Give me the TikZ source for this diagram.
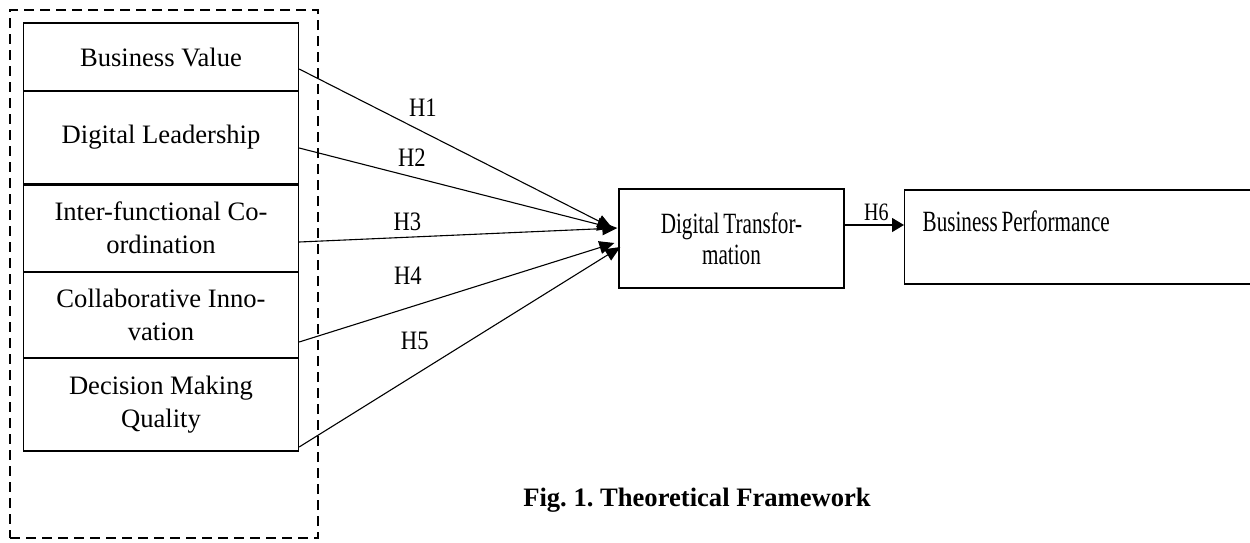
\documentclass[tikz,border=0pt]{standalone}
\usepackage{fontspec}
\setmainfont{Liberation Serif}
\newfontfamily\condA{Liberation Serif}[FakeStretch=0.8]
\newfontfamily\condB{Liberation Serif}[FakeStretch=0.85]
\newfontfamily\condC{Liberation Serif}[FakeStretch=0.72,WordSpace=0.72]
\usetikzlibrary{arrows.meta}
\begin{document}
\frenchspacing
\begin{tikzpicture}[x=0.5pt,y=-0.5pt,
  every node/.style={font=\fontsize{13.3}{16.5}\selectfont},
  box/.style={draw, line width=0.65pt, align=center, inner sep=0pt},
  rbox/.style={box, font=\fontsize{14.7}{15.5}\selectfont\condC},
  lbox/.style={box, minimum width=137.5pt},
  arr/.style={line width=0.55pt, -{Triangle[length=7.5pt,width=6.5pt]}},
  lab/.style={inner sep=0pt, font=\fontsize{13.3}{16.5}\selectfont\condB},
  grp/.style={draw, line width=0.7pt, dash pattern=on 5pt off 3pt}]
\useasboundingbox (0,0) rectangle (1250,542);
\fill[white] (0,0) rectangle (1250,542);
% group frame
\node[grp, minimum width=154pt, minimum height=264pt, inner sep=0pt] (grp) at (164,274) {};
% left boxes
\node[lbox, minimum height=34pt] (bv) at (161,57) {Business Value};
\node[lbox, minimum height=46.5pt] (dl) at (161,137.5) {Digital Leadership};
\node[lbox, minimum height=44pt] (ifc) at (161,228) {Inter-functional Co-\\ordination};
\node[lbox, minimum height=43pt] (ci) at (161,315) {Collaborative Inno-\\vation};
\node[lbox, minimum height=46.5pt] (dmq) at (161,404.5) {Decision Making\\Quality};
\draw[line width=1.3pt] (dl.south west) -- (dl.south east);
% right boxes
\node[rbox, minimum width=112.5pt, minimum height=49.5pt] (dt) at (731.5,238.5) {Digital Transfor-\\mation};
\node[rbox, anchor=west, minimum width=174pt, minimum height=47pt, text width=156pt, align=flush left, inner xsep=9pt] (bp) at (904,237) {Business Performance\\\mbox{}};
% connectors
\draw[arr] ([yshift=-6pt]bv.east) -- node[lab, pos=0.395, yshift=12pt]{H1} ([xshift=-3pt,yshift=5.25pt]dt.west);
\draw[arr] ([yshift=-5.25pt]dl.east) -- node[lab, pos=0.36, yshift=9.5pt]{H2} ([xshift=-3pt,yshift=5.25pt]dt.west);
\draw[arr] ([yshift=-7pt]ifc.east) -- node[lab, pos=0.34, yshift=7.5pt]{H3} ([xshift=-0.5pt,yshift=5.25pt]dt.west);
\draw[arr] ([yshift=-13.5pt]ci.east) -- node[lab, pos=0.345, yshift=16pt]{H4} ([xshift=-2pt,yshift=-2.25pt]dt.west);
\draw[arr] ([yshift=-21.25pt]dmq.east) -- node[lab, pos=0.36, yshift=17pt]{H5} ([xshift=1pt,yshift=-4.25pt]dt.west);
\draw[line width=0.6pt, -{Triangle[length=6pt,width=7pt]}] ([yshift=6.75pt]dt.east) -- node[lab, font=\fontsize{12.5}{15}\selectfont\condA, above=2pt, xshift=1pt]{H6} ([yshift=6pt]bp.west);
% caption
\node[font=\fontsize{13.3}{16.5}\selectfont\bfseries] (cap) at (697,500) {Fig. 1. Theoretical Framework};
\end{tikzpicture}
\end{document}
